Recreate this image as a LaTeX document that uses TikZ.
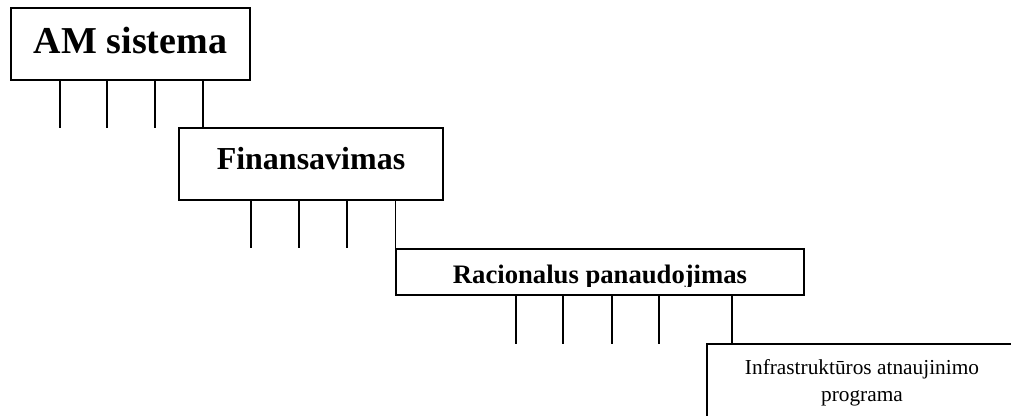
\documentclass[tikz,border=0pt]{standalone}
\usepackage{fontspec}
\setmainfont{Liberation Serif}
\usetikzlibrary{positioning}

\tikzset{
	lvl/.style={draw, line width=1pt, inner sep=0pt, align=center},
	tick/.style={line width=1pt}
}

\begin{document}
\begin{tikzpicture}
	[x=0.75pt, y=-0.75pt]
\clip (0,0) rectangle (1011,415);

\node[lvl, minimum width=179.25pt, minimum height=54pt,
	font=\bfseries\fontsize{28.5}{34}\selectfont, text height=20.5pt, text depth=6.5pt]
	(am) at (130.5,44) {AM sistema};
\node[lvl, minimum width=198pt, minimum height=54pt,
	font=\bfseries\fontsize{24}{29}\selectfont, text height=17pt, text depth=9.5pt]
	(fin) at (311,164) {Finansavimas};
\node[lvl, minimum width=306pt, minimum height=34.5pt] (rac) at (600,272) {};
\begin{scope}
	\clip (rac.north west) rectangle (804,286);
	\node[font=\bfseries\fontsize{20}{24}\selectfont, inner sep=0pt,
		text height=16.5pt, text depth=0pt] (racT) at (rac) {Racionalus panaudojimas};
\end{scope}
\node[lvl, minimum width=232.5pt, minimum height=57.75pt,
	font=\fontsize{16}{20.25}\selectfont]
	(inf) at (862,382.5) {Infrastrukt\={u}ros atnaujinimo\\programa};

\foreach \x in {60,107,155}{
	\coordinate (t) at (\x,128);
	\draw[tick] (t |- am.south) -- (t);
}
\foreach \x in {251,299,347}{
	\coordinate (t) at (\x,248);
	\draw[tick] (t |- fin.south) -- (t);
}
\foreach \x in {516,563,612,659}{
	\coordinate (t) at (\x,344);
	\draw[tick] (t |- rac.south) -- (t);
}

\coordinate (c1) at (203,0);
\coordinate (c2) at (rac.north west);
\coordinate (c3) at (732,0);
\draw[tick] (c1 |- am.south) -- (c1 |- fin.north);
\draw[tick] (c2 |- fin.south) -- (c2);
\draw[tick] (c3 |- rac.south) -- (c3 |- inf.north);

\end{tikzpicture}
\end{document}
